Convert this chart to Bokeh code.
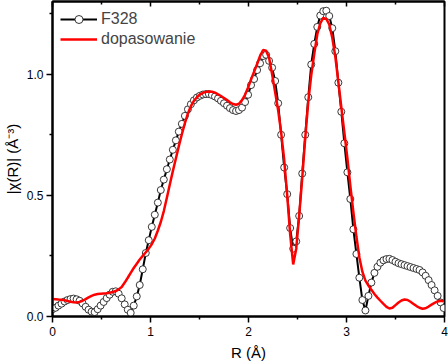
from bokeh.plotting import figure
from bokeh.models import Range1d, FixedTicker, LinearAxis, Legend, LegendItem, PrintfTickFormatter
from bokeh.embed import file_html
from bokeh.resources import INLINE

# R grid (Å)
r_values = [
    0.000, 0.031, 0.061, 0.092, 0.123, 0.154, 0.184, 0.215, 0.246, 0.276,
    0.307, 0.338, 0.368, 0.399, 0.430, 0.461, 0.491, 0.522, 0.553, 0.583,
    0.614, 0.645, 0.675, 0.706, 0.737, 0.768, 0.798, 0.829, 0.860, 0.890,
    0.921, 0.952, 0.982, 1.013, 1.044, 1.075, 1.105, 1.136, 1.167, 1.197,
    1.228, 1.259, 1.289, 1.320, 1.351, 1.382, 1.412, 1.443, 1.474, 1.504,
    1.535, 1.566, 1.596, 1.627, 1.658, 1.689, 1.719, 1.750, 1.781, 1.811,
    1.842, 1.873, 1.903, 1.934, 1.965, 1.996, 2.026, 2.057, 2.088, 2.118,
    2.149, 2.180, 2.210, 2.241, 2.272, 2.303, 2.333, 2.364, 2.395, 2.425,
    2.456, 2.487, 2.517, 2.548, 2.579, 2.610, 2.640, 2.671, 2.702, 2.732,
    2.763, 2.794, 2.824, 2.855, 2.886, 2.917, 2.947, 2.978, 3.009, 3.039,
    3.070, 3.101, 3.131, 3.162, 3.193, 3.224, 3.254, 3.285, 3.316, 3.346,
    3.377, 3.408, 3.438, 3.469, 3.500, 3.531, 3.561, 3.592, 3.623, 3.653,
    3.684, 3.715, 3.745, 3.776, 3.807, 3.838, 3.868, 3.899, 3.930, 3.960,
    3.991,
]

# F328 measured |chi(R)|
f328 = [
    0.030, 0.036, 0.045, 0.053, 0.062, 0.068, 0.072, 0.074, 0.071, 0.065,
    0.054, 0.040, 0.028, 0.020, 0.018, 0.030, 0.045, 0.060, 0.076, 0.090,
    0.102, 0.104, 0.094, 0.075, 0.050, 0.028, 0.015, 0.045, 0.083, 0.130,
    0.195, 0.262, 0.315, 0.370, 0.420, 0.470, 0.522, 0.565, 0.608, 0.648,
    0.688, 0.727, 0.763, 0.795, 0.828, 0.855, 0.876, 0.892, 0.904, 0.911,
    0.916, 0.918, 0.918, 0.914, 0.908, 0.900, 0.890, 0.880, 0.870, 0.860,
    0.852, 0.848, 0.852, 0.862, 0.885, 0.915, 0.955, 0.980, 1.017, 1.045,
    1.075, 1.080, 1.055, 1.027, 0.972, 0.880, 0.750, 0.615, 0.505, 0.365,
    0.280, 0.310, 0.415, 0.590, 0.750, 0.905, 1.040, 1.125, 1.195, 1.242,
    1.260, 1.262, 1.240, 1.190, 1.095, 0.965, 0.845, 0.715, 0.595, 0.485,
    0.360, 0.258, 0.160, 0.068, 0.025, 0.085, 0.140, 0.180, 0.205, 0.222,
    0.232, 0.237, 0.238, 0.233, 0.226, 0.220, 0.216, 0.212, 0.208, 0.204,
    0.200, 0.196, 0.192, 0.182, 0.168, 0.150, 0.130, 0.108, 0.085, 0.058,
    0.035,
]

# fit ("dopasowanie")
fit = [
    0.072, 0.071, 0.070, 0.069, 0.067, 0.064, 0.061, 0.059, 0.058, 0.060,
    0.065, 0.072, 0.079, 0.085, 0.090, 0.093, 0.094, 0.095, 0.096, 0.098,
    0.101, 0.105, 0.112, 0.122, 0.140, 0.160, 0.180, 0.200, 0.218, 0.235,
    0.250, 0.265, 0.280, 0.298, 0.322, 0.355, 0.390, 0.435, 0.490, 0.545,
    0.600, 0.652, 0.703, 0.752, 0.798, 0.838, 0.868, 0.890, 0.905, 0.916,
    0.923, 0.927, 0.929, 0.928, 0.924, 0.917, 0.910, 0.902, 0.893, 0.884,
    0.877, 0.874, 0.878, 0.893, 0.915, 0.945, 0.978, 1.010, 1.042, 1.075,
    1.100, 1.097, 1.068, 1.000, 0.925, 0.850, 0.760, 0.648, 0.500, 0.340,
    0.215, 0.280, 0.415, 0.570, 0.736, 0.887, 0.995, 1.084, 1.165, 1.210,
    1.232, 1.228, 1.205, 1.150, 1.072, 0.967, 0.864, 0.760, 0.654, 0.540,
    0.431, 0.330, 0.245, 0.185, 0.148, 0.128, 0.110, 0.093, 0.078, 0.065,
    0.052, 0.040, 0.033, 0.036, 0.047, 0.058, 0.066, 0.070, 0.068, 0.061,
    0.052, 0.043, 0.036, 0.032, 0.034, 0.041, 0.049, 0.056, 0.062, 0.065,
    0.063,
]

x_ticks = [0, 1, 2, 3, 4]
x_minor = [0.5, 1.5, 2.5, 3.5]
y_ticks = [0.0, 0.5, 1.0]
y_minor = [0.25, 0.75, 1.25]

series_names = ["F328", "dopasowanie"]

FONT = "Liberation Sans"

p = figure(width=448, height=364, output_backend="svg", toolbar_location=None,
           x_range=Range1d(0, 4), y_range=Range1d(0, 1.3),
           min_border_left=52, min_border_right=4, min_border_top=1,
           min_border_bottom=48, background_fill_color="white",
           border_fill_color="white")
p.xgrid.visible = False
p.ygrid.visible = False
p.outline_line_color = "black"
p.outline_line_width = 2

xt = FixedTicker(ticks=x_ticks, minor_ticks=x_minor)
yt = FixedTicker(ticks=y_ticks, minor_ticks=y_minor)

xa = p.xaxis[0]
xa.ticker = xt
xa.axis_label = "R (Å)"
ya = p.yaxis[0]
ya.ticker = yt
ya.formatter = PrintfTickFormatter(format="%.1f")
ya.axis_label = "|χ(R)| (Å⁻³)"

for ax in (xa, ya):
    ax.axis_line_width = 2
    ax.axis_line_color = "black"
    ax.major_tick_line_width = 1.5
    ax.minor_tick_line_width = 1.5
    ax.major_tick_in = 0
    ax.major_tick_out = 6
    ax.minor_tick_in = 0
    ax.minor_tick_out = 3
    ax.major_label_text_font = FONT
    ax.major_label_text_font_size = "12px"
    ax.major_label_text_color = "black"
    ax.major_label_text_line_height = 1.0
    ax.axis_label_text_font = FONT
    ax.axis_label_text_font_size = "15px"
    ax.axis_label_text_font_style = "normal"
    ax.axis_label_text_color = "black"
    ax.axis_label_text_line_height = 1.0
    ax.major_label_standoff = 3

xa.major_label_standoff = 4
xa.axis_label_standoff = 5
ya.axis_label_standoff = 3

top = LinearAxis(ticker=xt, major_tick_in=5, major_tick_out=0,
                 minor_tick_in=3, minor_tick_out=0,
                 major_tick_line_width=1.5, minor_tick_line_width=1.5,
                 axis_line_width=2, major_label_standoff=0,
                 major_label_overrides={t: "" for t in x_ticks})
p.add_layout(top, "above")

data_line = p.line(r_values, f328, line_color="black", line_width=2)
data_pts = p.scatter(r_values, f328, marker="circle", size=7,
                     line_color="#222222", line_width=0.9, fill_color="white")
fit_line = p.line(r_values, fit, line_color="#ff0000", line_width=2.5)

legend = Legend(items=[
    LegendItem(label=series_names[0], renderers=[data_line, data_pts]),
    LegendItem(label=series_names[1], renderers=[fit_line]),
], location="top_left")
legend.margin = 8
legend.padding = 0
legend.spacing = 0
legend.glyph_width = 37
legend.glyph_height = 20
legend.label_height = 20
legend.label_standoff = 4
legend.label_text_font = FONT
legend.label_text_font_size = "16px"
legend.border_line_color = None
legend.background_fill_alpha = 0
p.add_layout(legend)

open("out.html", "w").write(file_html(p, INLINE))
